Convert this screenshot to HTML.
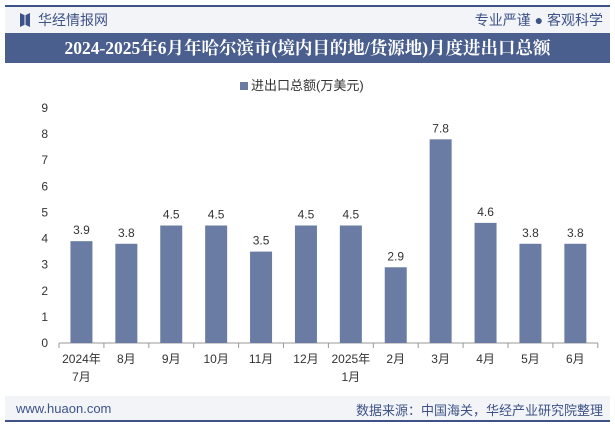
<!DOCTYPE html>
<html><head><meta charset="utf-8"><style>
body{margin:0;width:615px;height:427px;overflow:hidden;background:#fff;font-family:"Liberation Sans","Noto Sans CJK SC",sans-serif;position:relative}
.abs{position:absolute}
</style></head><body>
<div class="abs" style="left:5px;top:5px;width:605px;height:28px;background:#f2f4f8;border-top:2px solid #3d5287"></div>
<div class="abs" style="left:20px;top:13px;width:10px;height:14px;background:#3d5287;clip-path:polygon(0 0,45% 15%,45% 85%,0 100%,0 0,100% 0,55% 15%,55% 85%,100% 100%,100% 0)"></div>
<div class="abs" style="left:38px;top:10px;font-size:14px;color:#3d5287">华经情报网</div>
<div class="abs" style="right:12px;top:10px;font-size:14px;color:#3d5287">专业严谨 ● 客观科学</div>
<div class="abs" style="left:5px;top:33px;width:605px;height:30px;background:#4a5f8e;color:#fff;font-weight:bold;font-size:17.5px;line-height:30px;text-align:center;font-family:'Liberation Serif','Noto Serif CJK SC',serif">2024-2025年6月年哈尔滨市(境内目的地/货源地)月度进出口总额</div>
<div class="abs" style="left:240px;top:75px;font-size:13px;color:#333"><span style="display:inline-block;width:8px;height:8px;background:#6a7ca3;margin-right:3px"></span>进出口总额(万美元)</div>
<svg class="abs" style="left:0;top:0" width="615" height="427" id="chart"></svg>
<div class="abs" style="left:5px;top:396px;width:605px;height:24px;background:#f2f4f8;border-bottom:2px solid #3d5287"></div>
<div class="abs" style="left:16px;top:401px;font-size:13px;color:#3d5287">www.huaon.com</div>
<div class="abs" style="right:12px;top:400px;font-size:13px;color:#3d5287">数据来源：中国海关，华经产业研究院整理</div>
<script>
const categories=["2024年\n7月","8月","9月","10月","11月","12月","2025年\n1月","2月","3月","4月","5月","6月"];
const values=[3.9,3.8,4.5,4.5,3.5,4.5,4.5,2.9,7.8,4.6,3.8,3.8];
const yTicks=[0,1,2,3,4,5,6,7,8,9];
const NS="http://www.w3.org/2000/svg",svg=document.getElementById('chart');
const x0=59,band=44.9,y0=343,yTop=108,yMax=9;
const y=v=>y0-(v/yMax)*(y0-yTop);
const xc=i=>x0+band*(i+0.5);
function mk(t,a,txt){const e=document.createElementNS(NS,t);for(const k in a)e.setAttribute(k,a[k]);if(txt!=null)e.textContent=txt;svg.appendChild(e);return e;}
yTicks.forEach(t=>{const e=mk('text',{x:48,y:y(t)+4,'text-anchor':'end','font-size':12,fill:'#333'},t);

});
const ax=mk('line',{x1:x0,y1:y0,x2:x0+band*12,y2:y0,stroke:'#999'});


for(let i=0;i<=12;i++){mk('line',{x1:x0+band*i,y1:y0,x2:x0+band*i,y2:y0+5,stroke:'#999'});}
values.forEach((v,i)=>{
const r=mk('rect',{x:xc(i)-11,y:y(v),width:22,height:y0-y(v),fill:'#6a7ca3'});


const l=mk('text',{x:xc(i),y:y(v)-7,'text-anchor':'middle','font-size':12,fill:'#333'},v.toFixed(1));


categories[i].split("\n").forEach((s,j)=>{const c=mk('text',{x:xc(i),y:363+j*18,'text-anchor':'middle','font-size':12,fill:'#333'},s);

});
});
</script>
</body></html>
